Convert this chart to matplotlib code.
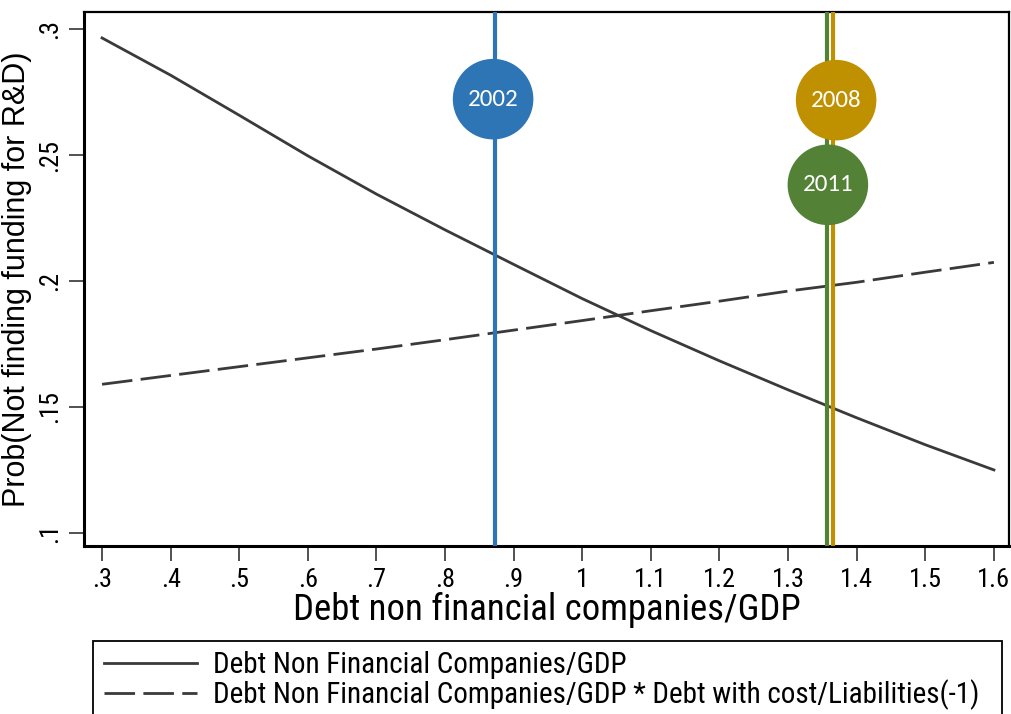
import numpy as np
import matplotlib.pyplot as plt
from matplotlib.patches import Rectangle

# data
debt = [0.3, 0.4, 0.5, 0.6, 0.7, 0.8, 0.9, 1.0, 1.1, 1.2, 1.3, 1.4, 1.5, 1.6]
prob_debt = [0.2965, 0.2817, 0.2658, 0.2497, 0.2345, 0.2203, 0.2066, 0.193,
             0.1803, 0.1683, 0.1568, 0.1457, 0.135, 0.125]
prob_inter = [0.159, 0.1625, 0.166, 0.1695, 0.173, 0.1767, 0.1805, 0.1843,
              0.1882, 0.192, 0.196, 0.1995, 0.2035, 0.2074]

years = ['2002', '2008', '2011']
year_x = [0.873, 1.366, 1.357]
bubble_x = [0.870, 1.370, 1.358]
bubble_y = [0.2722, 0.2718, 0.2382]
year_colors = ['#2E75B6', '#BF9000', '#538135']

xticks = [0.3, 0.4, 0.5, 0.6, 0.7, 0.8, 0.9, 1.0, 1.1, 1.2, 1.3, 1.4, 1.5, 1.6]
xlabels = ['.3', '.4', '.5', '.6', '.7', '.8', '.9', '1', '1.1', '1.2', '1.3', '1.4', '1.5', '1.6']
yticks = [0.1, 0.15, 0.2, 0.25, 0.3]
ylabels = ['.1', '.15', '.2', '.25', '.3']

narrow = ['Roboto Condensed', 'DejaVu Sans']
regular = ['Liberation Sans', 'DejaVu Sans']

fig = plt.figure(figsize=(10.11, 7.14), dpi=100)
ax = fig.add_axes([84/1011, 1-546/714, (1009-84)/1011, (546-12)/714])

ax.plot(debt, prob_debt, color='#3a3a3a', lw=2.0, label='Debt Non Financial Companies/GDP')
ax.plot(debt, prob_inter, color='#3a3a3a', lw=2.0, dashes=(11, 3),
        label='Debt Non Financial Companies/GDP * Debt with cost/Liabilities(-1)')

for x, c in zip(year_x, year_colors):
    ax.axvline(x, color=c, lw=3, zorder=3)
for x, y, c, t in zip(bubble_x, bubble_y, year_colors, years):
    ax.scatter([x], [y], s=58**2, color=c, zorder=4, edgecolors='none')
    ax.text(x, y, t, color='white', ha='center', va='center', fontsize=18,
            family=['Carlito', 'DejaVu Sans'], zorder=5)

ax.set_xlim(0.2737, 1.622)
ax.set_ylim(0.0948, 0.3068)
ax.set_xticks(xticks)
ax.set_xticklabels(xlabels, family=narrow, fontsize=19)
ax.set_yticks(yticks)
ax.set_yticklabels(ylabels, family=narrow, fontsize=19, rotation=90, va='center')
ax.tick_params(length=11, width=1.2, color='#333333', pad=5)

for side in ['left', 'bottom']:
    ax.spines[side].set_linewidth(2.2)
for side in ['top', 'right']:
    ax.spines[side].set_linewidth(1.6)

ax.set_xlabel('Debt non financial companies/GDP', family=narrow, fontsize=26.5, labelpad=0)
ax.set_ylabel('Prob(Not finding funding for R&D)', family=regular, fontsize=22, labelpad=4)

# legend box runs off the bottom of the figure
fig.patches.append(Rectangle((93/1011, -0.02), (1002-93)/1011, 0.02 + (714-641)/714,
                             transform=fig.transFigure, fill=False, ec='black', lw=1.3))
fig.legend(loc='upper left', bbox_to_anchor=(104/1011, 1-651/714), frameon=False,
           prop={'family': narrow, 'size': 21}, handlelength=3.2, handletextpad=0.55,
           labelspacing=0.0, borderpad=0, borderaxespad=0)

fig.savefig('out.png', dpi=100)
